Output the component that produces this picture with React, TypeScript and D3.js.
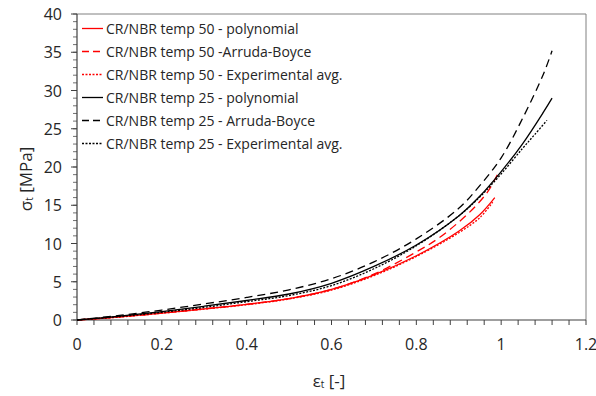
import React from "react";
import * as d3 from "d3";

// ---- Data ----
const xTicks = [0, 0.2, 0.4, 0.6, 0.8, 1, 1.2];
const yTicks = [0, 5, 10, 15, 20, 25, 30, 35, 40];

const red50Poly: [number, number][] = [
  [0, 0], [0.1, 0.4], [0.2, 0.9], [0.3, 1.45], [0.4, 2.05], [0.5, 2.8], [0.6, 4.0],
  [0.7, 5.9], [0.8, 8.4], [0.9, 11.6], [0.95, 13.8], [0.985, 16.0],
];
const red50AB: [number, number][] = [
  [0, 0], [0.1, 0.4], [0.2, 0.9], [0.3, 1.45], [0.4, 2.05], [0.5, 2.8], [0.6, 4.0],
  [0.7, 6.0], [0.8, 8.9], [0.85, 10.6], [0.9, 12.8], [0.94, 14.9], [0.97, 16.9], [0.993, 19.2],
];
const red50Exp: [number, number][] = [
  [0, 0], [0.1, 0.38], [0.2, 0.88], [0.3, 1.42], [0.4, 2.0], [0.5, 2.75], [0.6, 3.9],
  [0.7, 5.8], [0.8, 8.3], [0.9, 11.4], [0.95, 13.4], [0.98, 15.4],
];
const black25Poly: [number, number][] = [
  [0, 0], [0.1, 0.5], [0.2, 1.1], [0.3, 1.8], [0.4, 2.55], [0.5, 3.4], [0.6, 4.8],
  [0.7, 7.0], [0.8, 9.8], [0.9, 13.6], [0.95, 16.2], [1.0, 19.4], [1.05, 23.0], [1.1, 27.2], [1.12, 29.0],
];
const black25AB: [number, number][] = [
  [0, 0], [0.1, 0.6], [0.2, 1.3], [0.3, 2.1], [0.4, 2.95], [0.5, 3.95], [0.6, 5.4],
  [0.7, 7.6], [0.8, 10.6], [0.9, 14.6], [0.95, 17.6], [1.0, 21.2], [1.05, 26.3], [1.1, 32.2], [1.12, 35.2],
];
const black25Exp: [number, number][] = [
  [0, 0], [0.1, 0.45], [0.2, 1.0], [0.3, 1.65], [0.4, 2.4], [0.5, 3.2], [0.6, 4.5],
  [0.7, 6.7], [0.8, 9.7], [0.9, 13.6], [0.95, 16.1], [1.0, 19.1], [1.05, 22.4], [1.08, 24.3], [1.108, 26.1],
];

const seriesNames = [
  "CR/NBR temp 50 - polynomial",
  "CR/NBR temp 50 -Arruda-Boyce",
  "CR/NBR temp 50 - Experimental avg.",
  "CR/NBR temp 25 - polynomial",
  "CR/NBR temp 25 - Arruda-Boyce",
  "CR/NBR temp 25 - Experimental avg.",
];
const seriesData = [red50Poly, red50AB, red50Exp, black25Poly, black25AB, black25Exp];
const seriesColors = ["#ff0000", "#ff0000", "#ff0000", "#000000", "#000000", "#000000"];
const seriesDash = ["", "8,5", "2,1.5", "", "8,5", "2,1.5"];

export default function App() {
  const W = 596, H = 396;
  const left = 77, right = 586, top = 14, bottom = 320;
  const x = d3.scaleLinear().domain([0, 1.2]).range([left, right]);
  const y = d3.scaleLinear().domain([0, 40]).range([bottom, top]);
  const line = d3.line<[number, number]>()
    .x((d) => x(d[0]))
    .y((d) => y(d[1]))
    .curve(d3.curveCatmullRom.alpha(0.5));

  const xMinor = d3.range(0, 1.2001, 0.04);
  const yMinor = d3.range(0, 40.001, 1);
  const font = "'Open Sans', sans-serif";
  const axisColor = "#404040";
  const textColor = "#262626";

  return (
    <svg width={W} height={H} style={{ position: "absolute", left: 0, top: 0 }} fontFamily={font}>
      <rect width={W} height={H} fill="#fff" />
      {/* frame */}
      <line x1={left} x2={right} y1={top} y2={top} stroke="#808080" strokeWidth={1} />
      <line x1={right} x2={right} y1={top} y2={bottom} stroke="#808080" strokeWidth={1} />
      {/* minor ticks */}
      {xMinor.map((t, i) => (
        <line key={"xm" + i} x1={x(t)} x2={x(t)} y1={bottom} y2={bottom + 5} stroke={axisColor} strokeWidth={1} />
      ))}
      {yMinor.map((t, i) => (
        <line key={"ym" + i} x1={left - 4} x2={left} y1={y(t)} y2={y(t)} stroke="#707070" strokeWidth={1} />
      ))}
      {yTicks.map((t, i) => (
        <line key={"yM" + i} x1={left - 6} x2={left} y1={y(t)} y2={y(t)} stroke={axisColor} strokeWidth={1} />
      ))}
      {/* axes */}
      <line x1={left} x2={right} y1={bottom} y2={bottom} stroke={axisColor} strokeWidth={1.2} />
      <line x1={left} x2={left} y1={top} y2={bottom} stroke={axisColor} strokeWidth={1.2} />
      {/* tick labels */}
      {xTicks.map((t, i) => (
        <text key={"xl" + i} x={x(t)} y={bottom + 30} textAnchor="middle" fontSize={16} fill={textColor}>
          {d3.format("~g")(t)}
        </text>
      ))}
      {yTicks.map((t, i) => (
        <text key={"yl" + i} x={left - 15} y={y(t) + 6} textAnchor="end" fontSize={16} fill={textColor}>
          {t}
        </text>
      ))}
      {/* axis titles */}
      <text x={329} y={387} textAnchor="middle" fontSize={17} fill={textColor}>
        ε<tspan fontSize={10} dy={1}>t</tspan><tspan dy={-1}> [-]</tspan>
      </text>
      <text transform="translate(32,179) rotate(-90)" textAnchor="middle" fontSize={17} fill={textColor}>
        σ<tspan fontSize={10} dy={1}>t</tspan><tspan dy={-1}> [MPa]</tspan>
      </text>
      {/* series */}
      {seriesData.map((d, i) => (
        <path key={"s" + i} d={line(d) || ""} fill="none" stroke={seriesColors[i]}
          strokeWidth={1.3} strokeDasharray={seriesDash[i] || undefined} />
      ))}
      {/* legend */}
      {seriesNames.map((name, i) => {
        const cy = 28.5 + i * 23;
        return (
          <g key={"lg" + i}>
            <line x1={82} x2={103} y1={cy} y2={cy} stroke={seriesColors[i]} strokeWidth={1.3}
              strokeDasharray={seriesDash[i] ? (i % 3 === 1 ? "7,4" : "2,1.5") : undefined} />
            <text x={106} y={cy + 5} fontSize={14} fill={textColor}>{name}</text>
          </g>
        );
      })}
    </svg>
  );
}
